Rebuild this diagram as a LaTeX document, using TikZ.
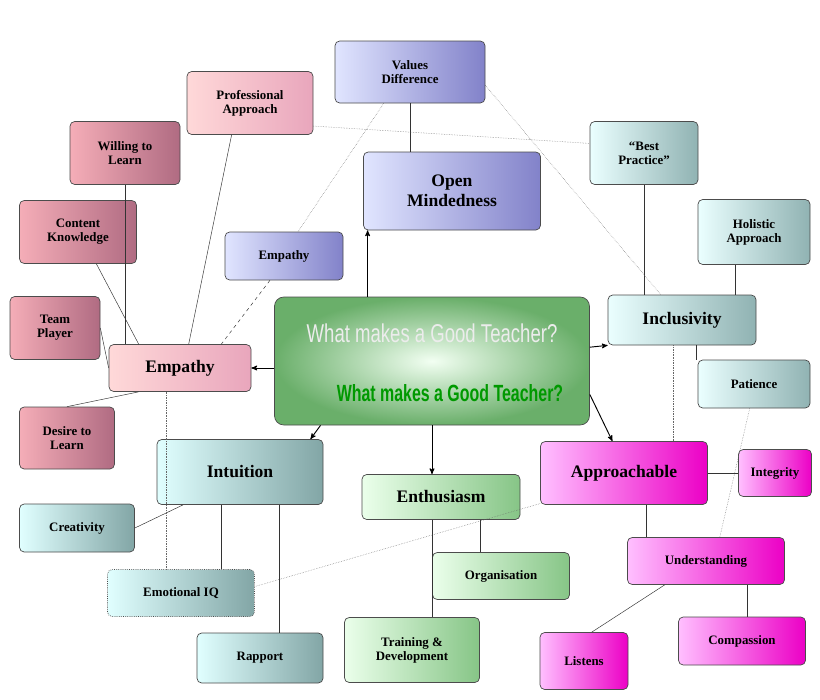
\documentclass[tikz,border=0pt]{standalone}
\usepackage{fontspec}
\setmainfont{Liberation Serif}
\newfontfamily\narrowsans{Liberation Sans}
\usetikzlibrary{arrows}
\usetikzlibrary{positioning}
\tikzset{
  box/.style={rectangle,rounded corners=4pt,draw=black!70,line width=0.6pt,align=center,font=\bfseries\fontsize{11}{12}\selectfont,inner sep=2pt},
  bigbox/.style={box,font=\bfseries\fontsize{15}{17}\selectfont},
  bluebox/.style={box,left color=cyan!15!blue!12,right color=blue!40!gray!70},
  pinkbox/.style={box,left color=pink!60,right color=purple!35},
  mauvebox/.style={box,left color=purple!20!pink!80,right color=purple!45!gray!80},
  tealbox/.style={box,left color=cyan!8,right color=teal!45!gray!60},
  magbox/.style={box,left color=magenta!25,right color=magenta!70!purple},
  cyanbox/.style={box,left color=cyan!12,right color=teal!40!gray!70},
  greenbox/.style={box,left color=green!8,right color=green!35!gray!70},
  dotline/.style={densely dotted,-,thin,black!60},
  solid line/.style={-,thin,black!80}
}
\begin{document}
\begin{tikzpicture}[->,>=stealth',thick,x=0.03cm,y=-0.03cm]
    \useasboundingbox[fill=white] (0,0) rectangle (820,699);

        % Centre node
        \node[box,rounded corners=8pt,inner color=green!5!white,outer color=green!30!gray!90,minimum width=315*0.03cm,minimum height=128*0.03cm] (T) at (432,361) {};
        \node[text=white!85!gray,font=\narrowsans\fontsize{22}{24}\selectfont] (T1) at (432,333) {\scalebox{0.72}[1]{What makes a Good Teacher?}};
        \node[text=green!60!black,font=\narrowsans\bfseries\fontsize{20}{22}\selectfont] (T2) at (450,393) {\scalebox{0.68}[1]{What makes a Good Teacher?}};

        % Open mindedness group
        \node[bluebox,bigbox,minimum width=177*0.03cm,minimum height=78*0.03cm] (OM) at (452,191) {Open\\Mindedness};
        \node[bluebox,minimum width=150*0.03cm,minimum height=62*0.03cm] (VD) at (410,72) {Values\\Difference};
        \node[bluebox,minimum width=118*0.03cm,minimum height=48*0.03cm] (EB) at (284,256) {Empathy};

        % Empathy group
        \node[pinkbox,bigbox,minimum width=142*0.03cm,minimum height=47*0.03cm] (E) at (180,368) {Empathy};
        \node[pinkbox,minimum width=126*0.03cm,minimum height=63*0.03cm] (PA) at (250,103) {Professional\\Approach};
        \node[mauvebox,minimum width=110*0.03cm,minimum height=63*0.03cm] (WL) at (125,153) {Willing to\\Learn};
        \node[mauvebox,minimum width=117*0.03cm,minimum height=63*0.03cm] (CK) at (78,232) {Content\\Knowledge};
        \node[mauvebox,minimum width=90*0.03cm,minimum height=63*0.03cm] (TP) at (55,328) {Team\\Player};
        \node[mauvebox,minimum width=95*0.03cm,minimum height=62*0.03cm] (DL) at (67,438) {Desire to\\Learn};

        % Inclusivity group
        \node[tealbox,bigbox,minimum width=148*0.03cm,minimum height=50*0.03cm] (I) at (682,320) {Inclusivity};
        \node[tealbox,minimum width=108*0.03cm,minimum height=63*0.03cm] (BP) at (644,153) {``Best\\Practice''};
        \node[tealbox,minimum width=112*0.03cm,minimum height=65*0.03cm] (HA) at (754,232) {Holistic\\Approach};
        \node[tealbox,minimum width=112*0.03cm,minimum height=48*0.03cm] (P) at (754,384) {Patience};

        % Approachable group
        \node[magbox,bigbox,minimum width=167*0.03cm,minimum height=63*0.03cm] (A) at (624,473) {Approachable};
        \node[magbox,minimum width=73*0.03cm,minimum height=47*0.03cm] (IG) at (775,473) {Integrity};
        \node[magbox,minimum width=157*0.03cm,minimum height=47*0.03cm] (U) at (706,561) {Understanding};
        \node[magbox,minimum width=127*0.03cm,minimum height=48*0.03cm] (C) at (742,641) {Compassion};
        \node[magbox,minimum width=88*0.03cm,minimum height=57*0.03cm] (L) at (584,661) {Listens};

        % Intuition group
        \node[cyanbox,bigbox,minimum width=166*0.03cm,minimum height=65*0.03cm] (IN) at (240,472) {Intuition};
        \node[cyanbox,minimum width=115*0.03cm,minimum height=48*0.03cm] (CR) at (77,528) {Creativity};
        \node[cyanbox,densely dotted,minimum width=147*0.03cm,minimum height=47*0.03cm] (EQ) at (181,593) {Emotional IQ};
        \node[cyanbox,minimum width=126*0.03cm,minimum height=50*0.03cm] (R) at (260,658) {Rapport};

        % Enthusiasm group
        \node[greenbox,bigbox,minimum width=158*0.03cm,minimum height=45*0.03cm] (EN) at (441,497) {Enthusiasm};
        \node[greenbox,minimum width=137*0.03cm,minimum height=47*0.03cm] (O) at (501,576) {Organisation};
        \node[greenbox,minimum width=135*0.03cm,minimum height=65*0.03cm] (TD) at (412,650) {Training \&\\Development};

        % Arrows from the centre
        \path (T.north -| OM.205) edge (OM.205);
        \path (T.west |- E) edge (E);
        \path (T.5) edge (I.south west);
        \path (T.-12) edge (A.110);
        \path (T.south) edge (EN.north -| T.south);
        \path (T.-150) edge (IN.25);

        % Solid links
        \draw[solid line] (VD) -- (VD |- OM.north);
        \draw[solid line] (PA.240) -- (E.70);
        \draw[solid line] (WL.south) -- (E.north -| WL.south);
        \draw[solid line] (CK.-60) -- (E.150);
        \draw[solid line] (TP.east) -- (E.west);
        \draw[solid line] (DL.north) -- (E.-150);
        \draw[solid line,dashed] (EB.240) -- (E.30);
        \draw[solid line] (BP.south) -- (BP.south |- I.north);
        \draw[solid line] (HA.-120) -- (HA.-120 |- I.north);
        \draw[solid line] (I.-60) -- (I.-60 |- P.north);
        \draw[solid line] (A.east) -- (IG.west);
        \draw[solid line] (A.-55) -- (A.-55 |- U.north);
        \draw[solid line] (U.-30) -- (U.-30 |- C.north);
        \draw[solid line] (U.-150) -- (L.75);
        \draw[solid line] (IN.-150) -- (CR.east);
        \draw[solid line] (IN.-120) -- (IN.-120 |- EQ.north);
        \draw[solid line] (IN.-40) -- (IN.-40 |- R.north);
        \draw[solid line] (EN.-30) -- (EN.-30 |- O.north);
        \draw[solid line] (EN.-110) -- (EN.-110 |- TD.north);

        % Dotted links
        \draw[dotline] (PA.-20) -- (BP.170);
        \draw[dotline] (VD.-10) -- (I.130);
        \draw[dotline] (VD.-130) -- (EB.60);
        \draw[dotline] (E.-120) -- (E.-120 |- EQ.north);
        \draw[dotline] (I.-110) -- (I.-110 |- A.north);
        \draw[dotline] (P.-100) -- (U.60);
        \draw[dotline] (A.-160) -- (EQ.5);

    \end{tikzpicture}
\end{document}
